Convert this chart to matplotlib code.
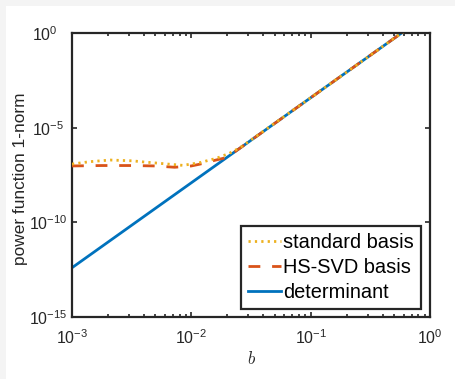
import os
import numpy as np
import matplotlib
matplotlib.use('Agg')
import matplotlib.pyplot as plt
from matplotlib.font_manager import FontProperties
from matplotlib.ticker import FixedLocator, NullLocator, FixedFormatter
from matplotlib.patches import Rectangle
import matplotlib.transforms as mtransforms

# ---- data ----
b_standard = [1.0e-3, 1.41e-3, 2.09e-3, 3.16e-3, 3.98e-3, 5.5e-3, 6.61e-3, 8.51e-3,
              1.17e-2, 1.62e-2, 2.09e-2, 2.57e-2, 1e-1, 1.0]
y_standard = [1.2e-7, 1.6e-7, 1.95e-7, 1.78e-7, 1.55e-7, 1.3e-7, 1.17e-7, 1.02e-7,
              1.41e-7, 2.4e-7, 4.47e-7, 8.9e-7, 3.8e-4, 11.7]

b_hssvd = [1.0e-3, 1.78e-3, 3.16e-3, 5.01e-3, 7.24e-3, 1.0e-2, 1.17e-2, 1.58e-2,
           1.85e-2, 2.24e-2, 1e-1, 1.0]
y_hssvd = [9.5e-8, 1.0e-7, 1.0e-7, 9.5e-8, 8.1e-8, 9.5e-8, 1.17e-7, 1.9e-7,
           2.4e-7, 4.6e-7, 3.8e-4, 11.7]

b_det = [1e-3, 1e-2, 1e-1, 1.0]
y_det = [4.0e-13, 1.23e-8, 3.8e-4, 11.7]

series_labels = ['standard basis', 'HS-SVD basis', 'determinant']
xtick_vals = [1e-3, 1e-2, 1e-1, 1e0]
xtick_labels = ['$10^{-3}$', '$10^{-2}$', '$10^{-1}$', '$10^{0}$']
ytick_vals = [1e-15, 1e-10, 1e-5, 1e0]
ytick_labels = ['$10^{-15}$', '$10^{-10}$', '$10^{-5}$', '$10^{0}$']

# ---- style ----
plt.rcParams['font.family'] = ['Liberation Sans', 'DejaVu Sans']
plt.rcParams['mathtext.fontset'] = 'custom'
plt.rcParams['mathtext.rm'] = 'Liberation Sans'
plt.rcParams['mathtext.it'] = 'Liberation Sans:italic'
plt.rcParams['mathtext.default'] = 'regular'
plt.rcParams['lines.scale_dashes'] = False

W, H = 456, 379
fig = plt.figure(figsize=(W / 100, H / 100), dpi=100, facecolor='white')
# light grey frame strip at top and left
fig.patches.append(Rectangle((0, 1 - 6 / H), 1, 6 / H, transform=fig.transFigure,
                             facecolor='#f4f4f4', edgecolor='none', zorder=0))
fig.patches.append(Rectangle((0, 0), 6 / W, 1, transform=fig.transFigure,
                             facecolor='#f4f4f4', edgecolor='none', zorder=0))

ax = fig.add_axes([72 / W, 62 / H, 358 / W, 284 / H])
ax.set_xscale('log')
ax.set_yscale('log')

ln_det, = ax.plot(b_det, y_det, color='#0072BD', lw=2.0, zorder=2)
ln_hs, = ax.plot(b_hssvd, y_hssvd, color='#D95319', lw=2.0, zorder=3,
                 linestyle=(0, (8.5, 8.5)))
ln_std, = ax.plot(b_standard, y_standard, color='#EDB120', lw=2.0, zorder=4,
                  linestyle=(0, (1.6, 3.0)))

ax.set_xlim(1e-3, 1e0)
ax.set_ylim(1e-15, 1e0)

ax.xaxis.set_major_locator(FixedLocator(xtick_vals))
ax.xaxis.set_major_formatter(FixedFormatter(xtick_labels))
minors = [m * d for d in [1e-3, 1e-2, 1e-1] for m in range(2, 10)]
ax.xaxis.set_minor_locator(FixedLocator(minors))
ax.yaxis.set_major_locator(FixedLocator(ytick_vals))
ax.yaxis.set_major_formatter(FixedFormatter(ytick_labels))
ax.yaxis.set_minor_locator(NullLocator())

for s in ax.spines.values():
    s.set_color('#262626')
    s.set_linewidth(1.6)

ax.tick_params(which='both', direction='in', top=True, right=True,
               color='#262626', width=1.2, labelsize=11.5, labelcolor='#262626')
ax.tick_params(which='major', length=3.5)
ax.tick_params(which='minor', length=2.2)
ax.tick_params(axis='x', which='major', pad=8)
ax.tick_params(axis='y', which='major', pad=3)

fig.canvas.draw()
# MATLAB-like individual y tick label offsets
yoff = {'$10^{0}$': -10, '$10^{-5}$': -4, '$10^{-10}$': 0, '$10^{-15}$': 0}
for t in ax.get_yticklabels():
    dx = yoff.get(t.get_text(), 0)
    t.set_transform(t.get_transform() + mtransforms.ScaledTranslation(dx / 100, 0, fig.dpi_scale_trans))

ax.set_ylabel('power function 1-norm', fontsize=12.4, color='#262626', va='center')
ax.yaxis.set_label_coords((21 - 72) / 358, (317 - 179) / 284)
cm_path = os.path.join(matplotlib.get_data_path(), 'fonts', 'ttf', 'cmmi10.ttf')
ax.set_xlabel('b', fontproperties=FontProperties(fname=cm_path, size=12), color='#262626',
              va='top')
ax.xaxis.set_label_coords(0.5, (317 - 351) / 284)

leg = ax.legend([ln_std, ln_hs, ln_det], series_labels, loc='lower right',
                bbox_to_anchor=(0.975, 0.028), borderaxespad=0, fontsize=14.4,
                handlelength=1.65, handletextpad=0.1, borderpad=0.35,
                labelspacing=0.3, fancybox=False, framealpha=1)
leg.get_frame().set_edgecolor('#262626')
leg.get_frame().set_linewidth(1.6)

fig.savefig('out.png', dpi=100, facecolor='white')
